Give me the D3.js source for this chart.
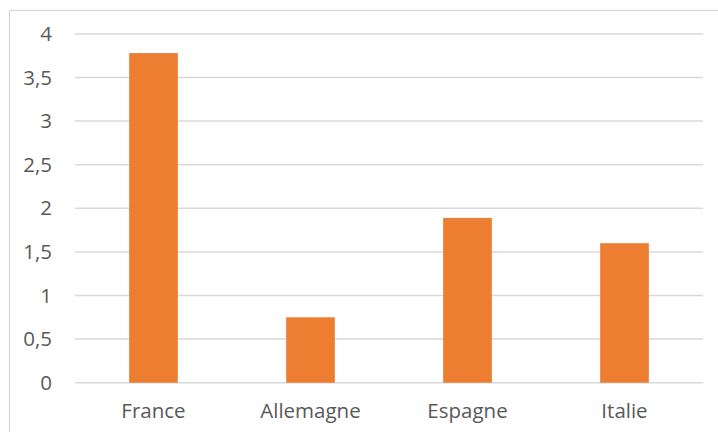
<!DOCTYPE html>
<html>
<head>
<meta charset="utf-8">
<script src="https://cdnjs.cloudflare.com/ajax/libs/d3/7.8.5/d3.min.js"></script>
<style>
  html, body { margin: 0; padding: 0; background: #fff; }
  text { font-family: "Open Sans", "Noto Sans", sans-serif; fill: #595959; }
</style>
</head>
<body>
<div id="chart"></div>
<script>
// data
const countries = ["France", "Allemagne", "Espagne", "Italie"];
const values = [3.78, 0.75, 1.89, 1.6];
const yTicks = [0, 0.5, 1, 1.5, 2, 2.5, 3, 3.5, 4];

const width = 718, height = 432;

let svg = d3.select("#chart").append("svg")
    .attr("width", width)
    .attr("height", height);

// chart area border (right and bottom fall outside the picture)
svg.append("rect")
    .attr("x", 9.5)
    .attr("y", 10.5)
    .attr("width", 720)
    .attr("height", 440)
    .attr("fill", "none")
    .attr("stroke", "#d9d9d9")
    .attr("stroke-width", 1.3);

let x = d3.scaleBand()
    .domain(countries)
    .range([75, 703])
    .paddingInner(0.69)
    .paddingOuter(0.345);

let y = d3.scaleLinear()
    .domain([0, 4])
    .range([382.7, 33.9]);

// gridlines
svg.append("g")
  .selectAll("line")
  .data(yTicks)
  .join("line")
    .attr("x1", 75)
    .attr("x2", 703)
    .attr("y1", d => y(d))
    .attr("y2", d => y(d))
    .attr("stroke", "#d9d9d9")
    .attr("stroke-width", 1.5);

// y labels with comma decimals
const fmt = d => String(d).replace(".", ",");
svg.append("g")
  .selectAll("text")
  .data(yTicks)
  .join("text")
    .attr("x", 52)
    .attr("y", d => y(d))
    .attr("dy", "0.35em")
    .attr("text-anchor", "end")
    .style("font-size", "20.5px")
    .text(fmt);

// bars
svg.append("g")
  .selectAll("rect")
  .data(values)
  .join("rect")
    .attr("x", (d, i) => x(countries[i]))
    .attr("width", x.bandwidth())
    .attr("y", d => y(d))
    .attr("height", d => y(0) - y(d))
    .attr("fill", "#ed7d31");

// category labels
svg.append("g")
  .selectAll("text")
  .data(countries)
  .join("text")
    .attr("x", d => x(d) + x.bandwidth() / 2)
    .attr("y", 418)
    .attr("text-anchor", "middle")
    .style("font-size", "20.5px")
    .text(d => d);
</script>
</body>
</html>
